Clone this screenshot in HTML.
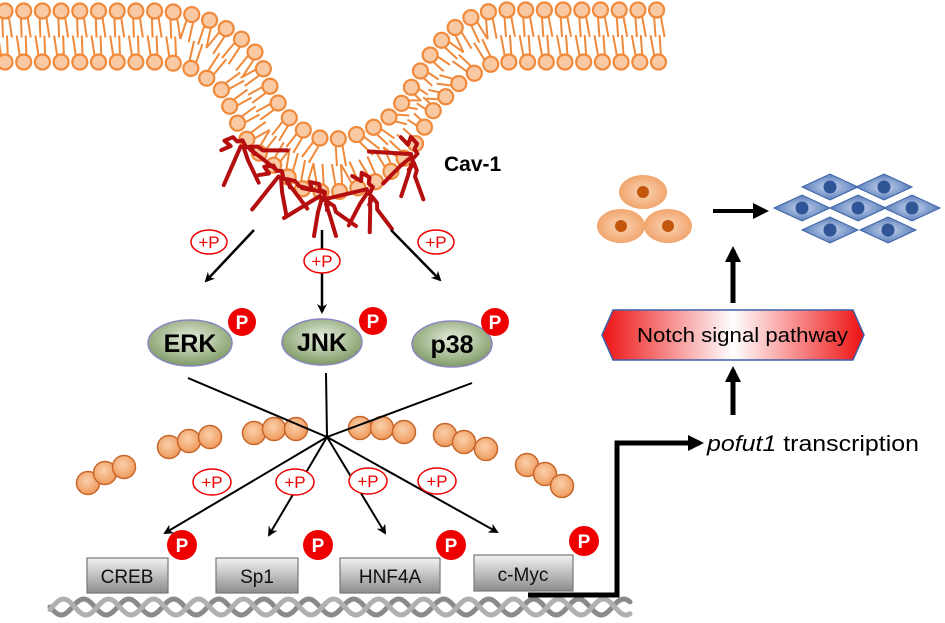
<!DOCTYPE html>
<html><head><meta charset="utf-8">
<style>
html,body{margin:0;padding:0;background:#fff;}
svg{display:block;}
text{font-family:"Liberation Sans",sans-serif;}
</style></head>
<body>
<svg id="s" width="945" height="623" viewBox="0 0 945 623" xmlns="http://www.w3.org/2000/svg">
<defs>
<radialGradient id="gOval" cx="50%" cy="40%" r="60%">
<stop offset="0" stop-color="#e6eedd"/><stop offset="1" stop-color="#7f9a66"/></radialGradient>
<linearGradient id="gBox" x1="0" y1="0" x2="0" y2="1">
<stop offset="0" stop-color="#f2f2f2"/><stop offset="1" stop-color="#8c8c8c"/></linearGradient>
<linearGradient id="gNotch" x1="0" y1="0" x2="1" y2="0">
<stop offset="0" stop-color="#ee1111"/><stop offset="0.5" stop-color="#ffffff"/><stop offset="1" stop-color="#ee1111"/></linearGradient>
<radialGradient id="gCell" cx="50%" cy="50%" r="55%">
<stop offset="0" stop-color="#fbd6b8"/><stop offset="1" stop-color="#f0a066"/></radialGradient>
<radialGradient id="gDia" cx="50%" cy="50%" r="55%">
<stop offset="0" stop-color="#c9d6ee"/><stop offset="1" stop-color="#4a72b4"/></radialGradient>
<radialGradient id="gBead" cx="45%" cy="40%" r="60%">
<stop offset="0" stop-color="#fad0ac"/><stop offset="1" stop-color="#ef9a5c"/></radialGradient>
<marker id="ah" markerWidth="10" markerHeight="10" refX="8" refY="5" orient="auto" markerUnits="userSpaceOnUse">
<path d="M0,0 L10,5 L0,10 L3,5 z" fill="#000"/></marker>
<marker id="ahb" markerWidth="16" markerHeight="16" refX="12" refY="8" orient="auto" markerUnits="userSpaceOnUse">
<path d="M0,0 L16,8 L0,16 z" fill="#000"/></marker>
</defs>
<g id="mem"></g>
<g id="cav" stroke="#b50e0e" stroke-width="4" fill="none" stroke-linecap="round" stroke-linejoin="round"></g>
<text x="444" y="171" font-size="21" font-weight="bold">Cav-1</text>

<g stroke="#000" stroke-width="2.5">
<line x1="254" y1="230" x2="206" y2="281" marker-end="url(#ah)"/>
<line x1="322" y1="230" x2="322" y2="312" marker-end="url(#ah)"/>
<line x1="391" y1="230" x2="440" y2="280" marker-end="url(#ah)"/>
</g>

<g fill="url(#gOval)" stroke="#8a86c0" stroke-width="1.5">
<ellipse cx="190" cy="343" rx="42" ry="23"/>
<ellipse cx="322" cy="342" rx="40" ry="23"/>
<ellipse cx="452" cy="344" rx="40" ry="23"/>
</g>
<g font-size="25" font-weight="bold" text-anchor="middle">
<text x="190" y="352">ERK</text><text x="322" y="351">JNK</text><text x="452" y="353">p38</text>
</g>
<g fill="#e00">
<circle cx="242" cy="322" r="14"/><circle cx="373" cy="321" r="14"/><circle cx="495" cy="322" r="14"/>
<circle cx="182" cy="545" r="15"/><circle cx="318" cy="545" r="15"/><circle cx="451" cy="545" r="15"/><circle cx="584" cy="541" r="15"/>
</g>
<g fill="#fff" font-size="19" font-weight="bold" text-anchor="middle">
<text x="242" y="329">P</text><text x="373" y="328">P</text><text x="495" y="329">P</text>
<text x="182" y="552">P</text><text x="318" y="552">P</text><text x="451" y="552">P</text><text x="584" y="548">P</text>
</g>

<g id="beads" fill="url(#gBead)" stroke="#c8662a" stroke-width="1.5"></g>

<g stroke="#000" stroke-width="2">
<line x1="188" y1="378" x2="327" y2="437"/>
<line x1="326" y1="373" x2="327" y2="437"/>
<line x1="472" y1="383" x2="327" y2="437"/>
<line x1="327" y1="437" x2="165" y2="533" marker-end="url(#ah)"/>
<line x1="327" y1="437" x2="269" y2="535" marker-end="url(#ah)"/>
<line x1="327" y1="437" x2="385" y2="533" marker-end="url(#ah)"/>
<line x1="327" y1="437" x2="497" y2="532" marker-end="url(#ah)"/>
</g>

<g fill="#fff" stroke="#e00" stroke-width="1.5">
<ellipse cx="209" cy="242" rx="18" ry="12"/>
<ellipse cx="322" cy="261" rx="18" ry="12"/>
<ellipse cx="436" cy="242" rx="18" ry="12"/>
<ellipse cx="212" cy="482" rx="19" ry="13"/>
<ellipse cx="295" cy="482" rx="19" ry="13"/>
<ellipse cx="368" cy="481" rx="19" ry="13"/>
<ellipse cx="437" cy="481" rx="19" ry="13"/>
</g>
<g fill="#e00" font-size="17" text-anchor="middle">
<text x="209" y="248">+P</text><text x="322" y="267">+P</text><text x="436" y="248">+P</text>
<text x="212" y="488">+P</text><text x="295" y="488">+P</text><text x="368" y="487">+P</text><text x="437" y="487">+P</text>
</g>

<g id="dna" fill="none" stroke-width="5" stroke-linecap="round"></g>

<g stroke="#777" stroke-width="1.2">
<rect x="87" y="558" width="81" height="35" fill="url(#gBox)"/>
<rect x="216" y="558" width="82" height="35" fill="url(#gBox)"/>
<rect x="340" y="558" width="100" height="35" fill="url(#gBox)"/>
<rect x="474" y="555" width="99" height="36" fill="url(#gBox)"/>
</g>
<g font-size="19" text-anchor="middle" fill="#111">
<text x="127" y="583">CREB</text><text x="257" y="583">Sp1</text><text x="390" y="583">HNF4A</text><text x="523" y="581">c-Myc</text>
</g>

<path d="M528,595 L617,595 L617,443 L700,443" fill="none" stroke="#000" stroke-width="5" marker-end="url(#ahb)"/>
<text x="707" y="451" font-size="22" textLength="212" lengthAdjust="spacingAndGlyphs"><tspan font-style="italic">pofut1</tspan> transcription</text>

<line x1="733" y1="415" x2="733" y2="370" stroke="#000" stroke-width="5" marker-end="url(#ahb)"/>
<polygon points="613,310 853,310 864,335 853,360 613,360 602,335" fill="url(#gNotch)" stroke="#3f5fa8" stroke-width="1.5"/>
<text x="637" y="342" font-size="20" textLength="211" lengthAdjust="spacingAndGlyphs">Notch signal pathway</text>
<line x1="733" y1="303" x2="733" y2="250" stroke="#000" stroke-width="5" marker-end="url(#ahb)"/>

<g fill="url(#gCell)">
<ellipse cx="643" cy="192" rx="24" ry="17"/>
<ellipse cx="621" cy="226" rx="24" ry="17"/>
<ellipse cx="668" cy="226" rx="24" ry="17"/>
</g>
<g fill="#c2570d"><circle cx="643" cy="192" r="6"/><circle cx="621" cy="226" r="6"/><circle cx="668" cy="226" r="6"/></g>
<line x1="713" y1="211" x2="765" y2="211" stroke="#000" stroke-width="4" marker-end="url(#ahb)"/>
<g id="dia"></g>
</svg>
<script>
(function(){
var NS="http://www.w3.org/2000/svg";
function el(p,t,a){var e=document.createElementNS(NS,t);for(var k in a)e.setAttribute(k,a[k]);p.appendChild(e);return e;}
var topL=[[5,11],[165,11],[190,14],[215,22],[237,35],[255,52],[265,72],[272,92],[282,110],[296,125],[312,136],[328,140],[345,138],[365,132],[385,121],[400,106],[411,88],[421,70],[432,52],[446,35],[462,22],[480,13],[500,10],[665,10]];
var botL=[[5,62],[160,62],[182,64],[198,72],[212,82],[224,92],[232,112],[244,136],[260,154],[282,172],[303,189],[328,193],[350,190],[372,184],[393,170],[412,150],[424,128],[432,112],[443,100],[453,88],[466,78],[480,70],[495,62],[665,62]];
function resample(pts,step){var out=[pts[0]],need=step;
for(var i=1;i<pts.length;i++){var a=pts[i-1],b=pts[i],dx=b[0]-a[0],dy=b[1]-a[1],L=Math.hypot(dx,dy);if(L===0)continue;var t=0;
while(L-t>=need){t+=need;out.push([a[0]+dx*t/L,a[1]+dy*t/L]);need=step;}need-=(L-t);}return out;}
var mem=document.getElementById('mem');
var T=resample(topL,18.7),B=resample(botL,18.7);
var tails=el(mem,'g',{stroke:'#f0893a','stroke-width':2,fill:'none'});
var heads=el(mem,'g',{fill:'#f9c9a4',stroke:'#f0893a','stroke-width':2.2});
function nearest(p,arr){var best=arr[0],bd=1e9;arr.forEach(function(q){var d=Math.hypot(q[0]-p[0],q[1]-p[1]);if(d<bd){bd=d;best=q;}});return best;}
function lipid(p,other){var q=nearest(p,other);var dx=q[0]-p[0],dy=q[1]-p[1],L=Math.hypot(dx,dy)||1;var ux=dx/L,uy=dy/L,px=-uy,py=ux;
var len=L*0.52;
el(tails,'path',{d:'M'+(p[0]-px*3)+','+(p[1]-py*3)+' L'+(p[0]+ux*len-px*7)+','+(p[1]+uy*len-py*7)+' M'+(p[0]+px*3)+','+(p[1]+py*3)+' L'+(p[0]+ux*len+px*2)+','+(p[1]+uy*len+py*2)});
el(heads,'circle',{cx:p[0],cy:p[1],r:7.5});}
T.forEach(function(p){lipid(p,B);});B.forEach(function(p){lipid(p,T);});
var cav=document.getElementById('cav');
var units=[[240,142,-35],[279,172,-20],[322,192,0],[370,186,18],[415,152,35]];
units.forEach(function(u){var g=el(cav,'g',{transform:'translate('+u[0]+','+u[1]+') rotate('+u[2]+')'});
el(g,'path',{d:'M-20,-4 L-10,-2 L-12,-10 L-3,-8 L-2,-2 L3,0 L2,8 L6,10 L5,18'});
el(g,'path',{d:'M-2,4 L-38,26'});
el(g,'path',{d:'M0,6 L-4,20 L-8,44'});
el(g,'path',{d:'M4,12 L8,24 L14,44'});
el(g,'path',{d:'M6,10 L12,14 L14,20 L34,34'});
});
var bg=document.getElementById('beads');
var chains=[[[88,483],[105,473],[124,467]],[[169,447],[189,441],[210,437]],[[254,433],[274,429],[296,429]],[[360,428],[382,428],[404,432]],[[445,435],[464,442],[486,449]],[[527,465],[545,474],[562,486]]];
chains.forEach(function(c){c.forEach(function(p){el(bg,'circle',{cx:p[0],cy:p[1],r:11.5});});});
var dna=document.getElementById('dna');
function strand(ph,col){var d='';for(var x=50;x<=630;x+=2){var y=607+8*Math.sin((x-50)/45*2*Math.PI+ph);d+=(x==50?'M':'L')+x+','+y.toFixed(1);}el(dna,'path',{d:d,stroke:col});}
strand(0,'#8a8a8a');strand(Math.PI*0.9,'#b0b0b0');
var dg=document.getElementById('dia');
[[830,187],[884,187],[802,208],[858,208],[912,208],[830,230],[888,230]].forEach(function(c){
el(dg,'polygon',{points:(c[0]-28)+','+c[1]+' '+c[0]+','+(c[1]-13)+' '+(c[0]+28)+','+c[1]+' '+c[0]+','+(c[1]+13),fill:'url(#gDia)',stroke:'#3d64a8','stroke-width':1});
el(dg,'circle',{cx:c[0],cy:c[1],r:6.5,fill:'#2f5597'});});
})();
</script>
</body></html>
